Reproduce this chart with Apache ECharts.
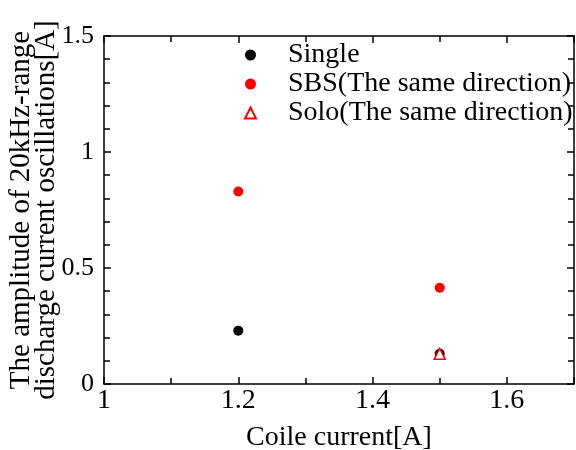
<!DOCTYPE html>
<html style="height: 100%">
    <head>
        <meta charset="utf-8">
    </head>
    <body style="height: 100%; margin: 0; background: #fff">
        <div id="container" style="width: 576px; height: 450px"></div>
        <script type="text/javascript" src="https://cdn.jsdelivr.net/npm/echarts@6/dist/echarts.min.js"></script>
        <script type="text/javascript">
var dom = document.getElementById("container");
var myChart = echarts.init(dom);

var seriesNames = ['Single', 'SBS(The same direction)', 'Solo(The same direction)'];
var singleData = [[1.2, 0.23], [1.5, 0.13]];
var sbsData = [[1.2, 0.83], [1.5, 0.415]];
var soloData = [[1.5, 0.13]];

var font = 'Liberation Serif';

// main axes: inside ticks; mirrored axes: outside with negative length (points inward)
function ticks(split, inside, sign) {
    return {
        axisLine: { onZero: false, lineStyle: { color: '#000', width: 1.5 } },
        axisTick: { show: true, inside: inside, length: 7 * sign, lineStyle: { color: '#000', width: 1.5 } },
        minorTick: { show: true, splitNumber: split, length: 6 * sign, lineStyle: { color: '#000', width: 1.5 } },
        splitLine: { show: false }
    };
}

var option = {
    animation: false,
    grid: { left: 104, right: 2, top: 36, bottom: 66, containLabel: false, outerBoundsMode: 'none' },
    legend: {
        orient: 'vertical',
        left: 239,
        top: 36,
        itemGap: 1,
        itemWidth: 11,
        itemHeight: 11,
        textStyle: { fontFamily: font, fontSize: 28, color: '#000', padding: [0, 0, 0, 27] },
        data: seriesNames
    },
    xAxis: [
        Object.assign({
            type: 'value', min: 1, max: 1.7, interval: 0.2,
            name: 'Coile current[A]', nameLocation: 'middle', nameGap: 40, nameMoveOverlap: false,
            nameTextStyle: { fontFamily: font, fontSize: 28, color: '#000' },
            axisLabel: { fontFamily: font, fontSize: 28, color: '#000', margin: 3, showMaxLabel: false }
        }, ticks(2, true, 1)),
        Object.assign({
            type: 'value', min: 1, max: 1.7, interval: 0.2, position: 'top',
            axisLabel: { show: false }
        }, ticks(2, false, -1))
    ],
    yAxis: [
        Object.assign({
            type: 'value', min: 0, max: 1.5, interval: 0.5,
            name: 'The amplitude of 20kHz-range\ndischarge current oscillations[A]',
            nameLocation: 'middle', nameGap: 45, nameMoveOverlap: false,
            nameTextStyle: { fontFamily: font, fontSize: 29, color: '#000', lineHeight: 25 },
            axisLabel: { fontFamily: font, fontSize: 26, color: '#000', margin: 10 }
        }, ticks(5, true, 1)),
        Object.assign({
            type: 'value', min: 0, max: 1.5, interval: 0.5, position: 'right',
            axisLabel: { show: false }
        }, ticks(5, false, -1))
    ],
    series: [
        {
            name: seriesNames[0], type: 'scatter', data: singleData,
            symbol: 'circle', symbolSize: 10,
            itemStyle: { color: '#000', opacity: 1 }
        },
        {
            name: seriesNames[1], type: 'scatter', data: sbsData,
            symbol: 'circle', symbolSize: 10,
            itemStyle: { color: '#ff0000', opacity: 1 }
        },
        {
            name: seriesNames[2], type: 'scatter', data: soloData,
            symbol: 'triangle', symbolSize: 11,
            itemStyle: { color: '#fff', borderColor: '#ff0000', borderWidth: 1.5, opacity: 1 }
        }
    ]
};

myChart.setOption(option);
        </script>
    </body>
</html>
